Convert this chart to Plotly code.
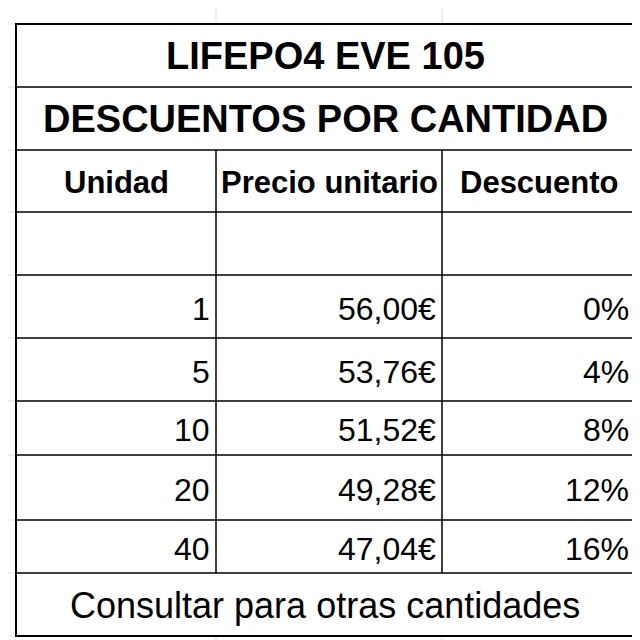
import plotly.graph_objects as go

title1 = "LIFEPO4 EVE 105"
title2 = "DESCUENTOS POR CANTIDAD"
headers = ["Unidad", "Precio unitario", "Descuento"]
unidades = ["1", "5", "10", "20", "40"]
precios = ["56,00€", "53,76€", "51,52€", "49,28€", "47,04€"]
descuentos = ["0%", "4%", "8%", "12%", "16%"]
footer = "Consultar para otras cantidades"

F = "Liberation Sans Narrow, Liberation Sans, Arial, sans-serif"
cols = [8, 208, 434, 627]
rows = [16, 79, 142, 204, 267, 330, 393, 447, 512, 565, 628]

fig = go.Figure()
shapes = []
for x in [208, 434]:
    shapes.append(dict(type="line", x0=x, x1=x, y0=0, y1=640, line=dict(color="#dddddd", width=1), layer="below"))
for y in rows:
    shapes.append(dict(type="line", x0=0, x1=640, y0=y, y1=y, line=dict(color="#dddddd", width=1), layer="below"))
shapes.append(dict(type="rect", x0=8, x1=627, y0=16, y1=628, fillcolor="white", line=dict(width=0), layer="below"))
shapes.append(dict(type="rect", x0=8, x1=627, y0=16, y1=628, line=dict(color="black", width=2)))
for y in rows[1:-1]:
    shapes.append(dict(type="line", x0=8, x1=627, y0=y, y1=y, line=dict(color="black", width=1.5)))
for x in cols[1:3]:
    shapes.append(dict(type="line", x0=x, x1=x, y0=142, y1=565, line=dict(color="black", width=1.5)))

ann = []
def t(x, y, s, size, bold=False, anchor="center"):
    ann.append(dict(x=x, y=y, text=f"<b>{s}</b>" if bold else s, showarrow=False,
                    xanchor=anchor, yanchor="middle", font=dict(family=F, size=size, color="black")))

t(317, 48, title1, 38, True)
t(317, 111, title2, 38, True)
for i, h in enumerate(headers):
    t((cols[i] + cols[i + 1]) / 2, 174, h, 31, True)
for i in range(5):
    yc = (rows[4 + i] + rows[5 + i]) / 2 + 2
    t(cols[1] - 4, yc, unidades[i], 32, anchor="right")
    t(cols[2] - 4, yc, precios[i], 32, anchor="right")
    t(cols[3] - 4, yc, descuentos[i], 32, anchor="right")
t(317, 597, footer, 36)

fig.update_layout(width=640, height=640, margin=dict(l=0, r=0, t=0, b=0),
                  paper_bgcolor="white", plot_bgcolor="white", shapes=shapes, annotations=ann,
                  xaxis=dict(range=[0, 640], visible=False, fixedrange=True),
                  yaxis=dict(range=[640, 0], visible=False, fixedrange=True), showlegend=False)
fig.write_html("out.html")
